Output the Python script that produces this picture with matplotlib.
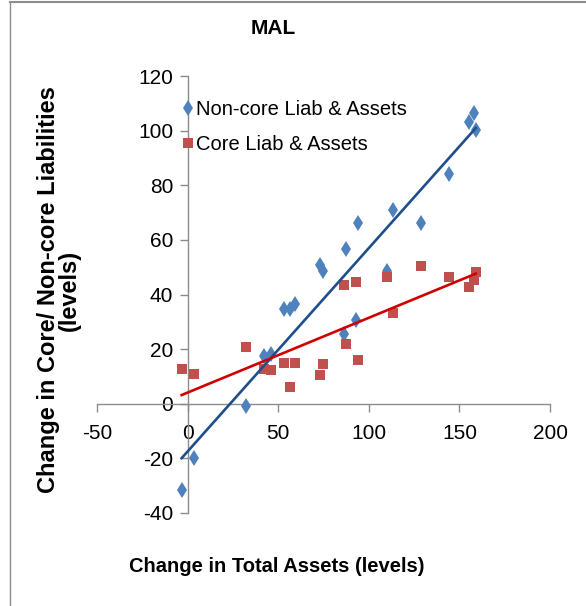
import numpy as np
import matplotlib
matplotlib.use("Agg")
from matplotlib import pyplot as plt
from matplotlib.lines import Line2D

# change in total assets (same x for both series)
total_assets = [-3.3, 3.7, 32, 42.2, 45.8, 53.4, 56.6, 59.2, 73.2, 74.7, 86.3,
                87.4, 92.8, 94, 110.2, 113.3, 129, 144, 155.2, 157.8, 159]
noncore = [-31.4, -20, -0.7, 17.6, 18.1, 34.6, 34.6, 36.7, 50.8, 48.7, 25.4,
           56.7, 30.8, 66.1, 48.7, 71.1, 66.1, 84.3, 103.3, 106.6, 100.3]
core = [12.6, 10.8, 20.7, 12.8, 12.5, 15.0, 6.3, 15.0, 10.5, 14.7, 43.5,
        21.8, 44.7, 16.0, 46.3, 33.2, 50.6, 46.5, 42.7, 45.3, 48.1]

x_ticks = [-50, 0, 50, 100, 150, 200]
y_ticks = [-40, -20, 0, 20, 40, 60, 80, 100, 120]

plt.rcParams['font.family'] = ['Liberation Sans', 'DejaVu Sans']
plt.rcParams['axes.unicode_minus'] = False

W, H = 586, 606
fig = plt.figure(figsize=(W / 100, H / 100), dpi=100)
ax = fig.add_axes([97 / W, 1 - 513 / H, 453 / W, 437 / H])

x = np.array(total_assets)
ax.plot(x, noncore, linestyle='none', marker='d', ms=8.5, color='#4F81BD',
        mew=0, label='Non-core Liab & Assets', zorder=3)
ax.plot(x, core, linestyle='none', marker='s', ms=6.8, color='#C0504D',
        mew=0, label='Core Liab & Assets', zorder=3)

# linear trendlines
xs = np.array([x.min(), x.max()])
b1 = np.polyfit(x, noncore, 1)
b2 = np.polyfit(x, core, 1)
ax.plot(xs, np.polyval(b1, xs), color='#1F4E8C', lw=1.9, zorder=4)
ax.plot(xs, np.polyval(b2, xs), color='#D00000', lw=1.9, zorder=4)

ax.set_xlim(-50, 200)
ax.set_ylim(-40, 120)
ax.set_xticks(x_ticks)
ax.set_yticks(y_ticks)
ax.spines['left'].set_position(('data', 0))
ax.spines['bottom'].set_position(('data', 0))
ax.spines['top'].set_visible(False)
ax.spines['right'].set_visible(False)
for s in ['left', 'bottom']:
    ax.spines[s].set_color('#8C8C8C')
    ax.spines[s].set_linewidth(1.0)
ax.tick_params(axis='both', direction='out', length=5.5, width=1.0,
               color='#8C8C8C', labelsize=15)
ax.tick_params(axis='x', pad=9)
ax.tick_params(axis='y', pad=5)

leg = ax.legend(loc='upper left', bbox_to_anchor=(0.171, 0.963), frameon=False,
                fontsize=14.5, handlelength=0.5, handletextpad=0.15,
                labelspacing=0.8, borderaxespad=0)

fig.text(273 / W, 1 - 28 / H, 'MAL', ha='center', va='center',
         fontsize=15, fontweight='bold')
fig.text(277 / W, 1 - 567 / H, 'Change in Total Assets (levels)',
         ha='center', va='center', fontsize=14.5, fontweight='bold')
fig.text(59 / W, 1 - 290 / H,
         'Change in Core/ Non-core Liabilities\n(levels)',
         ha='center', va='center', rotation=90, multialignment='center',
         fontsize=17, fontweight='bold', linespacing=0.9)

# outer frame of the slide
fig.add_artist(Line2D([10 / W, 1], [1 - 2 / H, 1 - 2 / H], color='#8C8C8C', lw=1.5))
fig.add_artist(Line2D([10 / W, 10 / W], [0, 1 - 2 / H], color='#8C8C8C', lw=1.0))

fig.savefig('out.png', dpi=100)
